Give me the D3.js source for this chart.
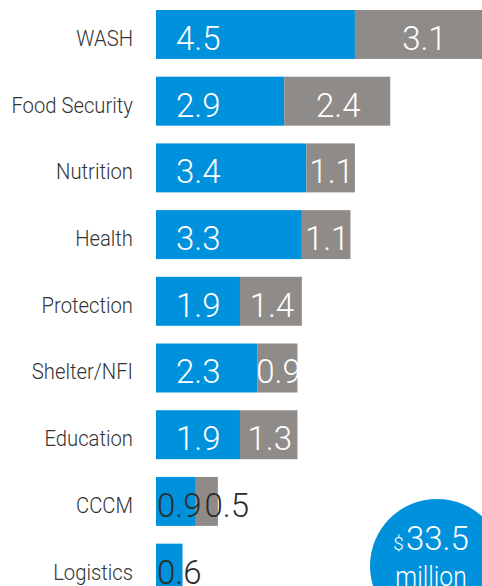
<!DOCTYPE html>
<html>
<head>
<meta charset="utf-8">
<script src="https://cdn.jsdelivr.net/npm/d3@7.8.5/dist/d3.min.js"></script>
<style>
  html, body { margin: 0; padding: 0; background: #fff; }
  svg { display: block; font-family: Roboto, "Noto Sans", sans-serif; }
</style>
</head>
<body>
<svg id="chart" width="482" height="586"></svg>
<script>
// sectors, funding in US$ million
const categories = ['WASH', 'Food Security', 'Nutrition', 'Health', 'Protection', 'Shelter/NFI', 'Education', 'CCCM', 'Logistics'];
const blueValues = [4.5, 2.9, 3.4, 3.3, 1.9, 2.3, 1.9, 0.9, 0.6];
const greyValues = [3.1, 2.4, 1.1, 1.1, 1.4, 0.9, 1.3, 0.5, 0];
const totalLabel = '33.5';

const width = 482, height = 586;
const blue = '#0091dd';
const grey = '#8f8b88';
const dark = '#2b2b2b';

const svg = d3.select('#chart');

const x = d3.scaleLinear().domain([0, 8]).range([156, 156 + 8 * 44.2]);
const y = d3.scaleBand()
    .domain(categories)
    .range([10, 592.6])
    .paddingInner(0.266)
    .paddingOuter(0)
    .align(0);

const rows = categories.map((c, i) => ({ cat: c, a: blueValues[i], b: greyValues[i] }));

// squeeze text a bit to mimic the condensed face
function condense(sel, k) {
    sel.each(function() {
        const len = this.getComputedTextLength();
        d3.select(this).attr('textLength', len * k).attr('lengthAdjust', 'spacingAndGlyphs');
    });
}

const g = svg.append('g');

const row = g.selectAll('.row')
    .data(rows)
    .enter()
    .append('g')
    .attr('class', 'row')
    .attr('transform', d => `translate(0,${y(d.cat)})`);

// category labels
row.append('text')
    .attr('x', 133)
    .attr('y', y.bandwidth() / 2 + 11.5)
    .attr('text-anchor', 'end')
    .attr('fill', '#333')
    .style('font-size', '22px')
    .style('font-weight', 300)
    .text(d => d.cat)
    .call(condense, 0.92);

// blue segment
row.append('rect')
    .attr('x', x(0))
    .attr('width', d => x(d.a) - x(0))
    .attr('height', y.bandwidth())
    .attr('fill', blue);

// grey segment
row.filter(d => d.b > 0).append('rect')
    .attr('x', d => x(d.a))
    .attr('width', d => x(d.a + d.b) - x(d.a))
    .attr('height', y.bandwidth())
    .attr('fill', grey);

const valueY = y.bandwidth() / 2 + 15.5;

// blue value labels
row.append('text')
    .attr('class', 'blue-val')
    .attr('x', d => (x(d.a) - x(0)) >= 60 ? x(0) + 20 : x(0) + 1)
    .attr('y', valueY)
    .attr('fill', d => (x(d.a) - x(0)) >= 60 ? '#fff' : dark)
    .style('font-size', '33px')
    .style('font-weight', 300)
    .text(d => d.a.toFixed(1));

// grey value labels
row.filter(d => d.b > 0).each(function(d) {
    const gw = x(d.a + d.b) - x(d.a);
    const t = d3.select(this).append('text')
        .attr('y', valueY)
        .style('font-size', '33px')
        .style('font-weight', 300)
        .text(d.b.toFixed(1));
    if (gw >= 30) {
        const cx = (x(d.a) + Math.min(x(d.a + d.b), width + 20)) / 2;
        t.attr('x', cx + 1).attr('text-anchor', 'middle').attr('fill', '#fff');
    } else {
        const bb = d3.select(this).select('.blue-val').node().getBBox();
        t.attr('x', bb.x + bb.width + 3).attr('fill', dark);
    }
});

// total bubble
const bubble = svg.append('g').attr('transform', 'translate(437,566)');
bubble.append('circle').attr('r', 67).attr('fill', blue);
const tot = bubble.append('text')
    .attr('x', -6)
    .attr('y', -16)
    .attr('text-anchor', 'middle')
    .attr('fill', '#fff')
    .style('font-weight', 300);
tot.append('tspan').style('font-size', '19px').text('$');
tot.append('tspan').attr('dx', 2).style('font-size', '33px').text(totalLabel);
bubble.append('text')
    .attr('x', -6)
    .attr('y', 20)
    .attr('text-anchor', 'middle')
    .attr('fill', '#fff')
    .style('font-size', '28px')
    .style('font-weight', 300)
    .text('million')
    .call(condense, 0.88);
</script>
</body>
</html>
